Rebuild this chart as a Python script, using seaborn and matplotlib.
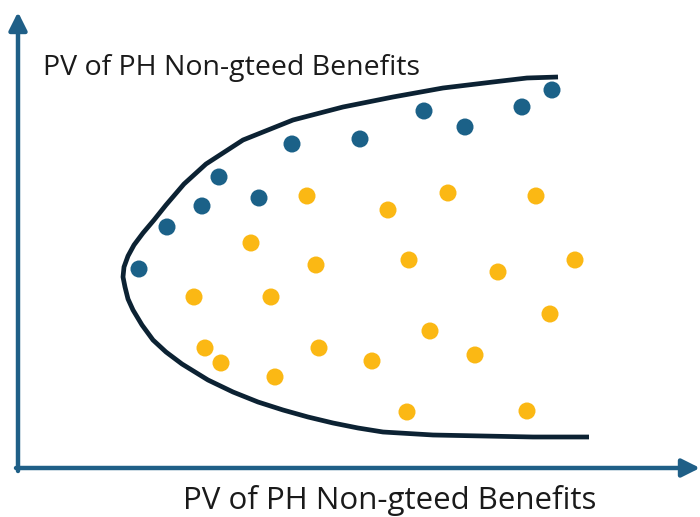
import numpy as np
import pandas as pd
import matplotlib
matplotlib.use('Agg')
import matplotlib.pyplot as plt
import seaborn as sns

# Points (x to the right, y downward, pixel-like units)
blue_x = [139, 167, 202, 219, 259, 292, 360, 424, 465, 522, 552]
blue_y = [269, 227, 206, 177, 198, 144, 139, 111, 127, 107, 90]

yellow_x = [307, 388, 448, 536, 251, 316, 409, 498, 575, 194, 271,
            430, 550, 205, 221, 319, 372, 475, 275, 407, 527]
yellow_y = [196, 210, 193, 196, 243, 265, 260, 272, 260, 297, 297,
            331, 314, 348, 363, 348, 361, 355, 377, 412, 411]

# Frontier curve, traced from the upper end round to the lower end
curve_x = [558, 527, 493, 443, 393, 343, 293, 243, 206, 184, 166, 154,
           143, 134, 128, 124, 123, 125, 128, 133, 142, 153, 166, 182,
           208, 233, 258, 283, 308, 333, 358, 383, 433, 483, 533, 589]
curve_y = [77, 78, 82, 88, 97, 107, 120, 140, 164, 184, 205, 220,
           233, 245, 256, 267, 277, 287, 299, 310, 325, 340, 352, 364,
           380, 392, 402, 410, 417, 423, 428, 432, 435, 436, 437, 437]

axis_label = 'PV of PH Non-gteed Benefits'

sns.set_theme(style='white')
plt.rcParams['font.family'] = ['Open Sans', 'DejaVu Sans']

fig = plt.figure(figsize=(7, 5.17), dpi=100)
ax = fig.add_axes([0, 0, 1, 1])
ax.set_xlim(0, 700)
ax.set_ylim(517, 0)
ax.axis('off')

axis_color = '#1f5f87'
# axes arrows
ax.annotate('', xy=(18, 12), xytext=(18, 471),
            arrowprops=dict(arrowstyle='-|>,head_length=0.9,head_width=0.45',
                            color=axis_color, lw=3.2, shrinkA=0, shrinkB=0))
ax.annotate('', xy=(700, 468), xytext=(16, 468),
            arrowprops=dict(arrowstyle='-|>,head_length=0.9,head_width=0.45',
                            color=axis_color, lw=3.2, shrinkA=0, shrinkB=0))

curve = pd.DataFrame({'x': curve_x, 'y': curve_y})
sns.lineplot(data=curve, x='x', y='y', sort=False, estimator=None,
             color='#0c2233', lw=3.4, ax=ax)
ax.lines[-1].set_solid_joinstyle('round')
ax.lines[-1].set_solid_capstyle('butt')

sns.scatterplot(x=yellow_x, y=yellow_y, color='#fbb814', s=150,
                edgecolor='none', ax=ax, zorder=3)
sns.scatterplot(x=blue_x, y=blue_y, color='#1b6188', s=150,
                edgecolor='none', ax=ax, zorder=3)

ax.text(43, 68, axis_label, fontsize=20.5, color='#1a1a1a', va='center', ha='left')
ax.text(390, 500, axis_label, fontsize=22.5, color='#1a1a1a', va='center', ha='center')

fig.savefig('out.png', dpi=100)
